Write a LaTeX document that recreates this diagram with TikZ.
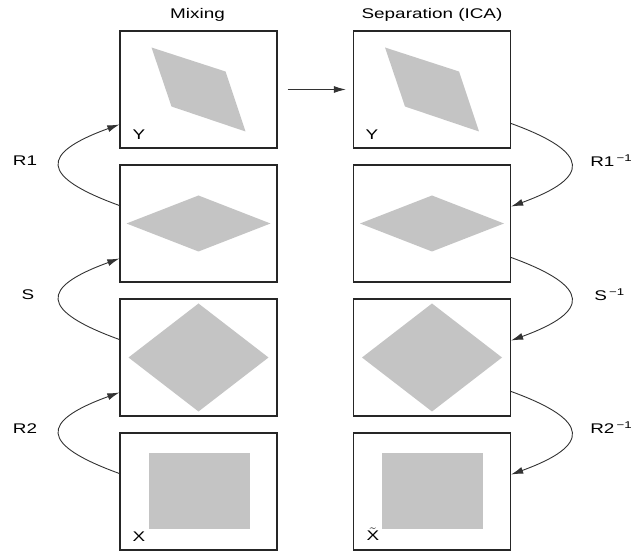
\documentclass[tikz,border=0pt]{standalone}
\usepackage{fontspec}
\setmainfont{Liberation Sans}
\usetikzlibrary{arrows.meta}

\definecolor{shapegray}{RGB}{196,196,196}

\tikzset{
  panel/.style={draw=black!85, line width=1.3pt, minimum width=157pt, minimum height=117pt, inner sep=0pt},
  lbl/.style={font=\fontsize{14}{16}\selectfont, xscale=1.35, inner sep=0pt},
  step arrow/.style={-{Latex[length=12pt,width=7pt]}, draw=black!80, line width=0.9pt},
}

\begin{document}
\begin{tikzpicture}[x=1pt,y=1pt]
\useasboundingbox (0,0) rectangle (633,555);

% titles
\node[lbl] (mixtitle) at (197.5,540) {Mixing};
\node[lbl] (septitle) at (432,540) {Separation (ICA)};

% the four panels of each column
\node[panel] (mixY) at (198.5,465.5) {};
\node[panel] (mixA) at (198.5,331.5) {};
\node[panel] (mixB) at (198.5,197.5) {};
\node[panel] (mixX) at (198.5,63.5) {};

\node[panel] (sepY) at (432,465.5) {};
\node[panel] (sepA) at (432,331.5) {};
\node[panel] (sepB) at (432,197.5) {};
\node[panel] (sepX) at (432,63.5) {};

% gray shapes, the same in both columns
\foreach \col in {mix,sep} {
  \fill[shapegray,shift={(\col Y.center)}] (-47,42) -- (27,18) -- (47,-42) -- (-27,-17) -- cycle;
  \fill[shapegray,shift={(\col A.center)}] (-72,0) -- (0,28) -- (72,0) -- (0,-28) -- cycle;
  \fill[shapegray,shift={(\col B.center)}] (-70,0) -- (0,54) -- (70,0) -- (0,-54) -- cycle;
  \fill[shapegray,shift={(\col X.center)}] (-50,-38) rectangle (51,38);
}

% corner letters
\node[lbl] (mixYl) at (139,420) {Y};
\node[lbl] (sepYl) at (372,420) {Y};
\node[lbl] (mixXl) at (139,18) {X};
\node[lbl] (sepXl) at (373,21) {$\tilde{\mbox{X}}$};

% mixing steps, bottom to top
\draw[step arrow] ([yshift=18pt]mixA.west) .. controls +(160:85) and +(200:85) .. ([yshift=-35pt]mixY.west);
\draw[step arrow] ([yshift=18pt]mixB.west) .. controls +(160:85) and +(200:85) .. ([yshift=-35pt]mixA.west);
\draw[step arrow] ([yshift=18pt]mixX.west) .. controls +(160:85) and +(200:85) .. ([yshift=-35pt]mixB.west);

\node[lbl] (rone) at (25,394) {R1};
\node[lbl] (sstep) at (28,260) {S};
\node[lbl] (rtwo) at (25,126) {R2};

% unmixing steps, top to bottom
\draw[step arrow] ([yshift=-34pt]sepY.east) .. controls +(-20:85) and +(20:85) .. ([yshift=17pt]sepA.east);
\draw[step arrow] ([yshift=-34pt]sepA.east) .. controls +(-20:85) and +(20:85) .. ([yshift=17pt]sepB.east);
\draw[step arrow] ([yshift=-34pt]sepB.east) .. controls +(-20:85) and +(20:85) .. ([yshift=17pt]sepX.east);

\node[lbl,anchor=west] (roneinv) at (590,394) {R1\textsuperscript{\,−1}};
\node[lbl,anchor=west] (sinv) at (594,260) {S\textsuperscript{\,−1}};
\node[lbl,anchor=west] (rtwoinv) at (590,127) {R2\textsuperscript{\,−1}};

% mixed data goes to ICA
\draw[step arrow, shorten <=10pt, shorten >=7pt] (mixY) -- (sepY);
\end{tikzpicture}
\end{document}
